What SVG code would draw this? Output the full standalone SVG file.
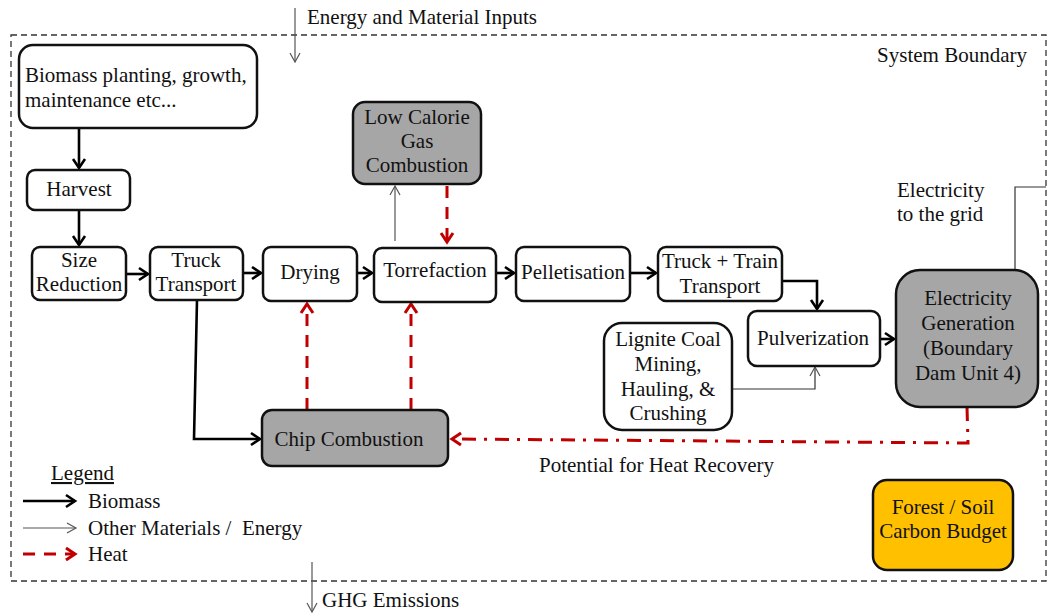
<svg xmlns="http://www.w3.org/2000/svg" width="1050" height="615" viewBox="0 0 1050 615">
<style>
text{font-family:"Liberation Serif","Times New Roman",serif;font-size:21px;fill:#111}
.c{text-anchor:middle}
.box{fill:#fff;stroke:#111;stroke-width:2.5}
.gray{fill:#a6a6a6;stroke:#111;stroke-width:2.5}
.orange{fill:#ffc000;stroke:#111;stroke-width:2.5}
.bio{fill:none;stroke:#000;stroke-width:2.6}
.oth{fill:none;stroke:#555;stroke-width:1.2}
.heat{fill:none;stroke:#c00000;stroke-width:3;stroke-dasharray:12,9}
.rec{fill:none;stroke:#c00000;stroke-width:3;stroke-dasharray:14,8,3,8}
</style>
<defs>
<marker id="mb" markerUnits="userSpaceOnUse" markerWidth="14" markerHeight="16" refX="11" refY="7" orient="auto" viewBox="0 0 14 14">
<path d="M2,1 L11,7 L2,13" fill="none" stroke="#000" stroke-width="2.6"/>
</marker>
<marker id="mo" markerUnits="userSpaceOnUse" markerWidth="12" markerHeight="12" refX="10" refY="6" orient="auto" viewBox="0 0 12 12">
<path d="M1,1 L10,6 L1,11" fill="none" stroke="#555" stroke-width="1.2"/>
</marker>
<marker id="mh" markerUnits="userSpaceOnUse" markerWidth="14" markerHeight="16" refX="11" refY="7" orient="auto" viewBox="0 0 14 14">
<path d="M2,1 L11,7 L2,13" fill="none" stroke="#c00000" stroke-width="3"/>
</marker>
</defs>

<g id="boundary">
<rect x="11" y="35" width="1035" height="546" fill="none" stroke="#333" stroke-width="1.3" stroke-dasharray="6,4"/>
<text x="1027" y="62" text-anchor="end">System Boundary</text>
</g>

<g id="inputs">
<line x1="295" y1="8" x2="295" y2="62" class="oth" marker-end="url(#mo)"/>
<text x="307" y="24">Energy and Material Inputs</text>
</g>

<g id="emissions">
<line x1="312" y1="562" x2="312" y2="612" class="oth" marker-end="url(#mo)"/>
<text x="322" y="607">GHG Emissions</text>
</g>

<g id="connectors">
<line x1="79" y1="128" x2="79" y2="168" class="bio" marker-end="url(#mb)"/>
<line x1="79" y1="210" x2="79" y2="245" class="bio" marker-end="url(#mb)"/>
<line x1="126" y1="274" x2="148" y2="274" class="bio" marker-end="url(#mb)"/>
<line x1="243" y1="273" x2="261" y2="273" class="bio" marker-end="url(#mb)"/>
<line x1="357" y1="273" x2="372" y2="273" class="bio" marker-end="url(#mb)"/>
<line x1="496" y1="273" x2="514" y2="273" class="bio" marker-end="url(#mb)"/>
<line x1="630" y1="273" x2="656" y2="273" class="bio" marker-end="url(#mb)"/>
<polyline points="782,281 817,281 817,309" class="bio" marker-end="url(#mb)"/>
<line x1="880" y1="339" x2="894" y2="339" class="bio" marker-end="url(#mb)"/>
<polyline points="197,300 194,439 260,439" class="bio" marker-end="url(#mb)"/>
<line x1="395" y1="241" x2="395" y2="186" class="oth" marker-end="url(#mo)"/>
<polyline points="732,389 815,389 815,367" class="oth" style="stroke:#333" marker-end="url(#mo)"/>
<polyline points="1015,270 1015,187 1046,187" class="oth" style="stroke:#333"/>
<line x1="447" y1="186" x2="447" y2="242" class="heat" marker-end="url(#mh)"/>
<line x1="307" y1="410" x2="307" y2="304" class="heat" marker-end="url(#mh)"/>
<line x1="411" y1="410" x2="411" y2="304" class="heat" marker-end="url(#mh)"/>
<polyline points="967,407 968,443 452,439" class="rec" marker-end="url(#mh)"/>
</g>

<g id="n-biomass">
<rect x="19" y="45" width="238" height="83" rx="14" class="box"/>
<text x="25" y="82">Biomass planting, growth,</text>
<text x="25" y="107">maintenance etc...</text>
</g>
<g id="n-harvest">
<rect x="27" y="170" width="103" height="40" rx="8" class="box"/>
<text x="79" y="196" class="c">Harvest</text>
</g>
<g id="n-size">
<rect x="32" y="247" width="94" height="53" rx="8" class="box"/>
<text x="79" y="267" class="c">Size</text>
<text x="79" y="291" class="c">Reduction</text>
</g>
<g id="n-truck">
<rect x="150" y="247" width="93" height="53" rx="8" class="box"/>
<text x="196" y="267" class="c">Truck</text>
<text x="196" y="291" class="c">Transport</text>
</g>
<g id="n-drying">
<rect x="263" y="247" width="94" height="54" rx="8" class="box"/>
<text x="310" y="279" class="c">Drying</text>
</g>
<g id="n-torre">
<rect x="374" y="248" width="122" height="54" rx="8" class="box"/>
<text x="435" y="277" class="c">Torrefaction</text>
</g>
<g id="n-pellet">
<rect x="516" y="247" width="114" height="54" rx="8" class="box"/>
<text x="573" y="279" class="c">Pelletisation</text>
</g>
<g id="n-train">
<rect x="658" y="247" width="124" height="54" rx="8" class="box"/>
<text x="720" y="268" class="c">Truck + Train</text>
<text x="720" y="293" class="c">Transport</text>
</g>
<g id="n-lowcal">
<rect x="353" y="102" width="128" height="82" rx="12" class="gray"/>
<text x="417" y="124" class="c">Low Calorie</text>
<text x="417" y="148" class="c">Gas</text>
<text x="417" y="172" class="c">Combustion</text>
</g>
<g id="n-pulv">
<rect x="748" y="311" width="132" height="55" rx="9" class="box"/>
<text x="813" y="345" class="c">Pulverization</text>
</g>
<g id="n-lignite">
<rect x="604" y="323" width="128" height="107" rx="18" class="box"/>
<text x="668" y="346" class="c">Lignite Coal</text>
<text x="668" y="371" class="c">Mining,</text>
<text x="668" y="396" class="c">Hauling, &amp;</text>
<text x="668" y="420" class="c">Crushing</text>
</g>
<g id="n-elec">
<rect x="896" y="270" width="142" height="137" rx="24" class="gray"/>
<text x="968" y="305" class="c">Electricity</text>
<text x="968" y="330" class="c">Generation</text>
<text x="968" y="355" class="c">(Boundary</text>
<text x="968" y="380" class="c">Dam Unit 4)</text>
</g>
<g id="n-chip">
<rect x="262" y="410" width="186" height="56" rx="10" class="gray"/>
<text x="349" y="446" class="c">Chip Combustion</text>
</g>
<g id="n-forest">
<rect x="873" y="480" width="140" height="90" rx="14" class="orange"/>
<text x="943" y="514" class="c">Forest / Soil</text>
<text x="943" y="538" class="c">Carbon Budget</text>
</g>

<g id="labels">
<text x="897" y="197">Electricity</text>
<text x="897" y="221">to the grid</text>
<text x="539" y="472">Potential for Heat Recovery</text>
</g>

<g id="legend">
<text x="51" y="480" text-decoration="underline">Legend</text>
<line x1="23" y1="501" x2="75" y2="501" class="bio" marker-end="url(#mb)"/>
<text x="88" y="508">Biomass</text>
<line x1="23" y1="528" x2="76" y2="528" class="oth" marker-end="url(#mo)"/>
<text x="88" y="535" style="white-space:pre">Other Materials /  Energy</text>
<line x1="23" y1="554" x2="75" y2="554" class="heat" stroke-dasharray="11,8" marker-end="url(#mh)"/>
<text x="88" y="561">Heat</text>
</g>
</svg>
